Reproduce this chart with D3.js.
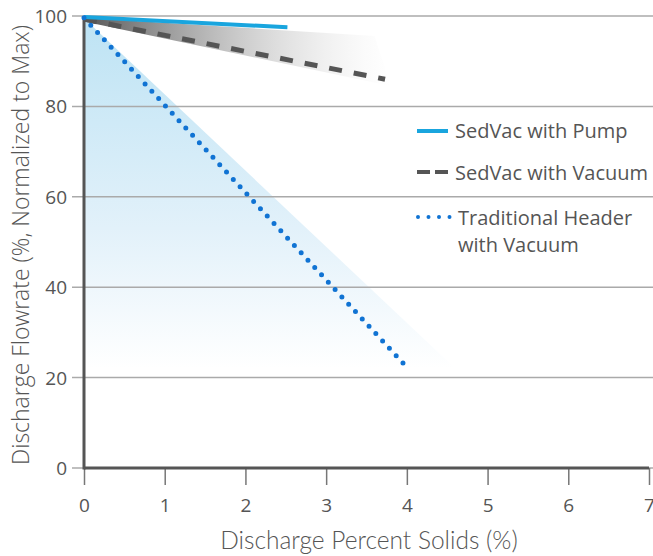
<!DOCTYPE html>
<html>
<head>
<meta charset="utf-8">
<script src="https://cdn.jsdelivr.net/npm/d3@7"></script>
<style>
  body { margin: 0; background: #fff; }
  svg text { fill: #555; }
</style>
</head>
<body>
<div id="chart"></div>
<script>
// chart data
const xTicks = [0, 1, 2, 3, 4, 5, 6, 7];
const yTicks = [0, 20, 40, 60, 80, 100];
const pumpLine = [[0, 99.8], [2.52, 97.5]];
const vacuumLine = [[0, 99.3], [3.73, 86.0]];
const headerLine = [[0, 99.6], [4.0, 22.3]];
// shaded fans behind the lines
const blueFan = [[0, 99.5], [4.6, 22], [0, 22]];
const grayFan = [[0, 99.6], [3.6, 95.6], [3.8, 84.5], [0, 98.8]];
const legendNames = ["SedVac with Pump", "SedVac with Vacuum", "Traditional Header", "with Vacuum"];

const width = 653, height = 556;
const margin = { left: 84, right: 4, top: 16, bottom: 88 };

const svg = d3.select("#chart").append("svg")
    .attr("width", width)
    .attr("height", height);

const x = d3.scaleLinear().domain([0, 7]).range([margin.left, width - margin.right]);
const y = d3.scaleLinear().domain([0, 100]).range([height - margin.bottom, margin.top]);

const defs = svg.append("defs");
const bg = defs.append("linearGradient").attr("id", "blueGrad")
    .attr("x1", 0).attr("y1", 0).attr("x2", 0).attr("y2", 1);
bg.append("stop").attr("offset", "0%").attr("stop-color", "#bde3f4");
bg.append("stop").attr("offset", "60%").attr("stop-color", "#e2f1fa");
bg.append("stop").attr("offset", "100%").attr("stop-color", "#ffffff");

const gg = defs.append("linearGradient").attr("id", "grayGrad")
    .attr("x1", 0).attr("y1", 0).attr("x2", 1).attr("y2", 0);
gg.append("stop").attr("offset", "0%").attr("stop-color", "#555").attr("stop-opacity", 1);
gg.append("stop").attr("offset", "35%").attr("stop-color", "#999").attr("stop-opacity", 0.8);
gg.append("stop").attr("offset", "100%").attr("stop-color", "#ddd").attr("stop-opacity", 0);

const area = d3.line().x(d => x(d[0])).y(d => y(d[1]));

svg.append("path")
    .attr("d", area(blueFan) + "Z")
    .attr("fill", "url(#blueGrad)");

// grid lines
svg.append("g")
    .selectAll("line")
    .data(yTicks)
    .enter().append("line")
    .attr("x1", margin.left - 12)
    .attr("x2", width)
    .attr("y1", d => y(d))
    .attr("y2", d => y(d))
    .attr("stroke", "#aaa")
    .attr("stroke-width", 1.5);

svg.append("path")
    .attr("d", area(grayFan) + "Z")
    .attr("fill", "url(#grayGrad)");

// y tick labels
svg.append("g")
    .selectAll("text")
    .data(yTicks)
    .enter().append("text")
    .attr("x", margin.left - 17)
    .attr("y", d => y(d) + 7)
    .attr("text-anchor", "end")
    .style("font-family", "'Open Sans', sans-serif")
    .style("font-size", "19px")
    .text(d => d);

// x axis with ticks below
const xAxis = d3.axisBottom(x).tickValues(xTicks).tickFormat(d3.format("d"))
    .tickSize(17).tickPadding(14);
const gx = svg.append("g")
    .attr("transform", `translate(0,${y(0)})`)
    .call(xAxis);
gx.select(".domain").remove();
gx.selectAll(".tick line").attr("stroke", "#777").attr("stroke-width", 1.5);
gx.selectAll(".tick text")
    .style("font-family", "'Open Sans', sans-serif")
    .style("font-size", "19px")
    .attr("fill", "#555");

// axis lines
svg.append("line")
    .attr("x1", x(0)).attr("x2", x(7))
    .attr("y1", y(0)).attr("y2", y(0))
    .attr("stroke", "#555").attr("stroke-width", 3);
svg.append("line")
    .attr("x1", x(0)).attr("x2", x(0))
    .attr("y1", y(100)).attr("y2", y(0) + 1.5)
    .attr("stroke", "#555").attr("stroke-width", 3);

// series
svg.append("path")
    .attr("d", area(vacuumLine))
    .attr("stroke", "#555").attr("stroke-width", 5)
    .attr("stroke-dasharray", "13 12")
    .attr("fill", "none");

svg.append("path")
    .attr("d", area(pumpLine))
    .attr("stroke", "#19a5de").attr("stroke-width", 4)
    .attr("fill", "none");

svg.append("path")
    .attr("d", area(headerLine))
    .attr("stroke", "#1073d3").attr("stroke-width", 5)
    .attr("stroke-linecap", "round")
    .attr("stroke-dasharray", "0 10")
    .attr("fill", "none");

// legend
const lg = svg.append("g");
lg.append("line")
    .attr("x1", 417).attr("x2", 448).attr("y1", 131).attr("y2", 131)
    .attr("stroke", "#19a5de").attr("stroke-width", 4);
lg.append("line")
    .attr("x1", 417).attr("x2", 448).attr("y1", 172).attr("y2", 172)
    .attr("stroke", "#555").attr("stroke-width", 4)
    .attr("stroke-dasharray", "13 5");
lg.append("line")
    .attr("x1", 418).attr("x2", 451).attr("y1", 217).attr("y2", 217)
    .attr("stroke", "#1073d3").attr("stroke-width", 4)
    .attr("stroke-linecap", "round")
    .attr("stroke-dasharray", "0 10.5");

lg.selectAll("text")
    .data(legendNames)
    .enter().append("text")
    .attr("x", (d, i) => i < 2 ? 455 : 458)
    .attr("y", (d, i) => [138, 180, 225, 252][i])
    .style("font-family", "'Open Sans', sans-serif")
    .style("font-size", "20px")
    .text(d => d);

// axis titles
svg.append("text")
    .attr("x", 369)
    .attr("y", 549)
    .attr("text-anchor", "middle")
    .style("font-family", "Lato, sans-serif")
    .style("font-weight", 300)
    .style("font-size", "24.5px")
    .text("Discharge Percent Solids (%)");

svg.append("text")
    .attr("transform", "translate(29,245) rotate(-90)")
    .attr("text-anchor", "middle")
    .style("font-family", "'Open Sans', sans-serif")
    .style("font-weight", 300)
    .style("font-size", "23px")
    .text("Discharge Flowrate (%, Normalized to Max)");
</script>
</body>
</html>
